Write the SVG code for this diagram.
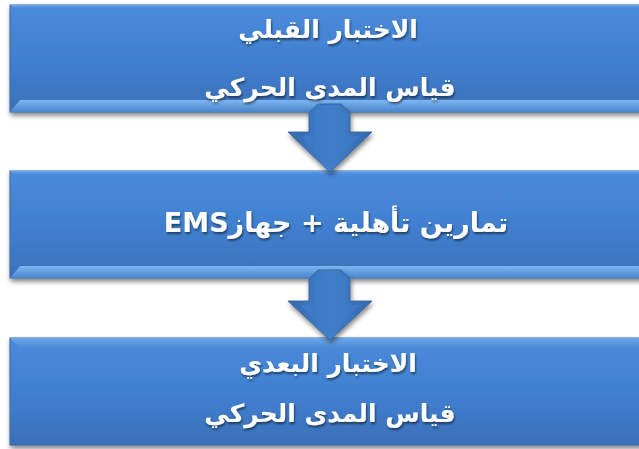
<svg xmlns="http://www.w3.org/2000/svg" width="639" height="449" viewBox="0 0 639 449">
<defs>
<linearGradient id="boxg" x1="0" y1="0" x2="0" y2="1">
<stop offset="0" stop-color="#4A8BDA"/>
<stop offset="0.5" stop-color="#4180D0"/>
<stop offset="1" stop-color="#3A70B8"/>
</linearGradient>
<linearGradient id="bevb" x1="0" y1="0" x2="0" y2="1">
<stop offset="0" stop-color="#7DB6F0"/>
<stop offset="1" stop-color="#4A86CF"/>
</linearGradient>
<linearGradient id="bevt" x1="0" y1="0" x2="0" y2="1">
<stop offset="0" stop-color="#6FA8E8"/>
<stop offset="1" stop-color="#4A8AD8"/>
</linearGradient>
<linearGradient id="arrg" x1="0" y1="0" x2="1" y2="0">
<stop offset="0" stop-color="#3468AE"/>
<stop offset="0.5" stop-color="#4280CC"/>
<stop offset="1" stop-color="#3468AE"/>
</linearGradient>
<filter id="sh" x="-10%" y="-20%" width="120%" height="150%">
<feGaussianBlur in="SourceAlpha" stdDeviation="2.5"/>
<feOffset dx="1" dy="3" result="b"/>
<feComponentTransfer><feFuncA type="linear" slope="0.5"/></feComponentTransfer>
<feMerge><feMergeNode/><feMergeNode in="SourceGraphic"/></feMerge>
</filter>
<filter id="tsh" x="-10%" y="-30%" width="120%" height="160%">
<feGaussianBlur in="SourceAlpha" stdDeviation="1"/>
<feOffset dx="1" dy="1.5"/>
<feComponentTransfer><feFuncA type="linear" slope="0.5"/></feComponentTransfer>
<feMerge><feMergeNode/><feMergeNode in="SourceGraphic"/></feMerge>
</filter>
</defs>
<style>
.box{fill:url(#boxg);stroke:#3467A8;stroke-width:1}
.bb{fill:url(#bevb)}
.bt{fill:url(#bevt)}
.t{font-family:"DejaVu Sans","Noto Sans",sans-serif;font-weight:bold;font-size:25px;fill:#FFFFFF;text-anchor:middle;direction:rtl}
.t2{font-size:27px}
.arr{fill:url(#arrg);stroke:#2F5F9F;stroke-width:0.8}
.ain{fill:#3F7CC8;opacity:0.7}
</style>
<rect width="639" height="449" fill="#FFFFFF"/>
<g id="node1" filter="url(#sh)">
<rect class="box" x="10" y="5" width="640" height="107"/>
<polygon class="bt" points="10,5 650,5 650,8 13,8"/>
<polygon class="bb" points="10,112 20,100 650,100 650,112"/>
<text class="t" x="328" y="38" filter="url(#tsh)">الاختبار القبلي</text>
<text class="t" x="330" y="96" filter="url(#tsh)">قياس المدى الحركي</text>
</g>
<g id="node2" filter="url(#sh)">
<rect class="box" x="10" y="171" width="640" height="107"/>
<polygon class="bt" points="10,171 650,171 650,174 13,174"/>
<polygon class="bb" points="10,278 20,266 650,266 650,278"/>
<text class="t t2" x="336" y="232" filter="url(#tsh)">تمارين تأهلية + جهازEMS</text>
</g>
<g id="node3" filter="url(#sh)">
<rect class="box" x="10" y="338" width="640" height="107"/>
<polygon class="bt" points="10,338 650,338 650,348 20,348"/>
<text class="t" x="328" y="372" filter="url(#tsh)">الاختبار البعدي</text>
<text class="t" x="330" y="422" filter="url(#tsh)">قياس المدى الحركي</text>
</g>
<g id="connectors" filter="url(#sh)">
<polygon class="arr" points="318,104 341,104 350,113 350,132 372,132 330,172 288,132 309,132 309,113"/>
<polygon class="ain" points="318,108 341,108 346,114 346,136 360,136 330,166 300,136 313,136 313,114"/>
<polygon class="arr" points="318,270 341,270 350,279 350,301 372,301 330,340 288,301 309,301 309,279"/>
<polygon class="ain" points="318,274 341,274 346,280 346,305 360,305 330,334 300,305 313,305 313,280"/>
</g>
</svg>
